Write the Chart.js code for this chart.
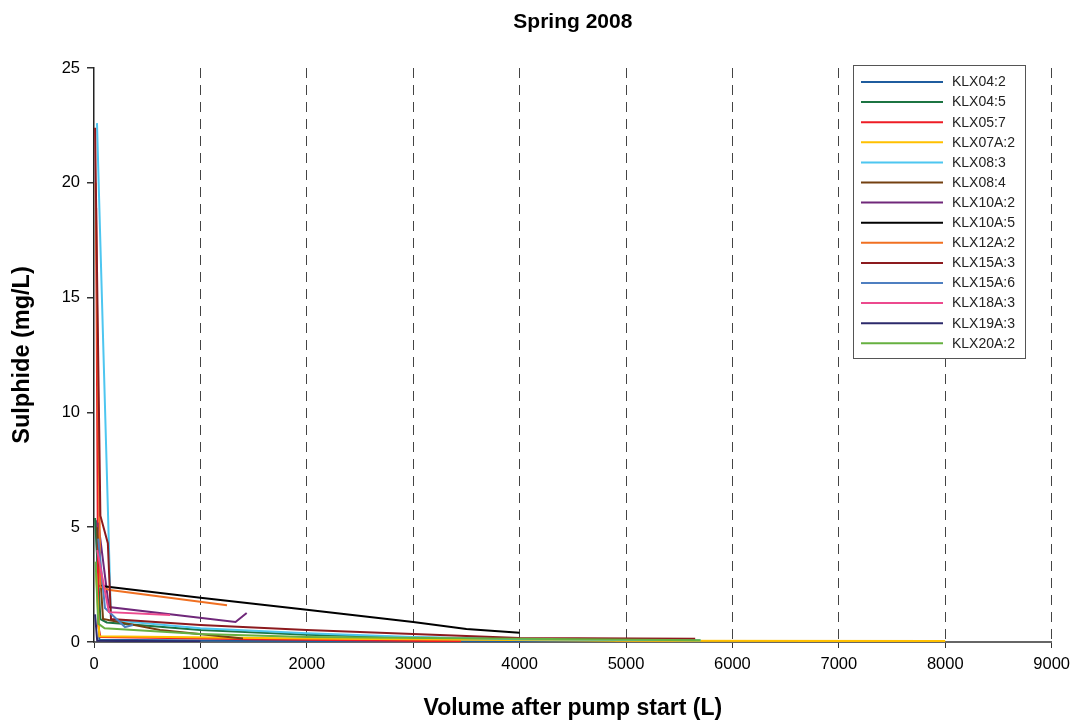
<!DOCTYPE html>
<html>
<head>
  <meta charset="utf-8">
  <title>Spring 2008</title>
  <script src="https://cdn.jsdelivr.net/npm/chart.js"></script>
  <style>body{margin:0;background:#fff;}canvas{display:block;}</style>
</head>
<body>
  <canvas id="chart" width="1077" height="726"></canvas>
  <script>
    const seriesNames = ['KLX04:2','KLX04:5','KLX05:7','KLX07A:2','KLX08:3','KLX08:4','KLX10A:2',
      'KLX10A:5','KLX12A:2','KLX15A:3','KLX15A:6','KLX18A:3','KLX19A:3','KLX20A:2'];
    const seriesColors = ['#1F5C9E','#1C7442','#EE1C25','#FFC000','#4DC6F0','#744010','#70287A',
      '#000000','#F07022','#8C1A1E','#4F7FC0','#EC4A8E','#2C2A6B','#66B040'];
    // volume after pump start (L), one list per series
    const volumes = [
      [20, 50, 1000, 3000, 4900],
      [10, 60, 120, 1000, 2000, 3000, 4900],
      [20, 40, 60, 1500, 3450],
      [20, 50, 2000, 4900, 8000],
      [28, 160, 1000, 2000, 3000, 4000, 5700],
      [30, 85, 620, 1400],
      [40, 140, 1330, 1435],
      [50, 1000, 2000, 3000, 3500, 4000],
      [15, 60, 150, 1250],
      [10, 60, 130, 160, 1000, 2000, 3000, 4000, 5650],
      [40, 103, 291, 366],
      [30, 140, 715],
      [10, 30, 1000],
      [15, 40, 100, 1000, 2000, 5700]
    ];
    // sulphide (mg/L), same order
    const sulphide = [
      [5.3, 0.1, 0.06, 0.03, 0.02],
      [5.4, 1.0, 0.85, 0.52, 0.32, 0.2, 0.07],
      [18.9, 0.7, 0.22, 0.12, 0.03],
      [3.0, 0.25, 0.15, 0.05, 0.04],
      [22.6, 0.95, 0.6, 0.38, 0.22, 0.12, 0.08],
      [5.0, 1.0, 0.52, 0.15],
      [5.2, 1.52, 0.87, 1.26],
      [2.45, 1.93, 1.4, 0.87, 0.57, 0.4],
      [20.0, 2.4, 2.26, 1.6],
      [22.4, 5.5, 4.3, 1.0, 0.74, 0.52, 0.35, 0.17, 0.14],
      [4.5, 1.48, 0.65, 0.74],
      [4.0, 1.3, 1.18],
      [1.2, 0.05, 0.02],
      [3.5, 0.8, 0.6, 0.35, 0.22, 0.08]
    ];
    const xTicks = [0,1000,2000,3000,4000,5000,6000,7000,8000,9000];
    const yTicks = [0,5,10,15,20,25];

    const FONT = "'Liberation Sans', Arial, sans-serif";

    const boxLegend = {
      id: 'boxLegend',
      afterDraw(chart) {
        const ctx = chart.ctx;
        const x0 = 853, y0 = 65, w = 172, h = 293;
        ctx.save();
        ctx.fillStyle = '#fff';
        ctx.fillRect(x0, y0, w, h);
        ctx.strokeStyle = '#555';
        ctx.lineWidth = 1;
        ctx.strokeRect(x0 + 0.5, y0 + 0.5, w, h);
        ctx.font = '14px ' + FONT;
        ctx.textBaseline = 'middle';
        chart.data.datasets.forEach((ds, i) => {
          const y = 82 + i * 20.1;
          ctx.strokeStyle = ds.borderColor;
          ctx.lineWidth = 2;
          ctx.beginPath();
          ctx.moveTo(861, y);
          ctx.lineTo(943, y);
          ctx.stroke();
          ctx.fillStyle = '#222';
          ctx.fillText(ds.label, 952, y + 0.5);
        });
        ctx.restore();
      }
    };

    new Chart(document.getElementById('chart'), {
      type: 'line',
      data: {
        datasets: seriesNames.map((name, i) => ({
          label: name,
          data: volumes[i].map((v, j) => ({x: v, y: sulphide[i][j]})),
          borderColor: seriesColors[i],
          backgroundColor: seriesColors[i],
          borderWidth: 2,
          pointRadius: 0,
          fill: false,
          tension: 0,
          order: seriesNames.length - i
        }))
      },
      options: {
        responsive: false,
        animation: false,
        devicePixelRatio: 1,
        layout: {padding: {left: 0, right: 18, top: 0, bottom: 0}},
        plugins: {
          legend: {display: false},
          tooltip: {enabled: false},
          title: {
            display: true,
            text: 'Spring 2008',
            fullSize: false,
            color: '#000',
            font: {family: FONT, size: 21, weight: 'bold'},
            padding: {top: 10, bottom: 32.8}
          }
        },
        scales: {
          x: {
            type: 'linear',
            min: 0, max: 9000,
            afterBuildTicks: s => { s.ticks = xTicks.map(v => ({value: v})); },
            afterFit: s => { s.height = 84; },
            ticks: {color: '#000', font: {family: FONT, size: 16.5}, padding: 7, maxRotation: 0,
              callback: v => String(v)},
            grid: {
              color: c => c.tick && c.tick.value === 0 ? 'rgba(0,0,0,0)' : '#444',
              lineWidth: 1,
              drawTicks: true,
              tickLength: 6,
              tickColor: '#333',
              tickBorderDash: []
            },
            border: {display: true, color: '#666', width: 2, dash: [10, 7]},
            title: {
              display: true,
              text: 'Volume after pump start (L)',
              color: '#000',
              font: {family: FONT, size: 23, weight: 'bold'},
              padding: {top: 0, bottom: 4}
            }
          },
          y: {
            type: 'linear',
            min: 0, max: 25,
            afterBuildTicks: s => { s.ticks = yTicks.map(v => ({value: v})); },
            afterFit: s => { s.width = 94; },
            ticks: {color: '#000', font: {family: FONT, size: 16.5}, padding: 7,
              callback: v => String(v)},
            grid: {drawOnChartArea: false, drawTicks: true, tickLength: 7, tickColor: '#333', lineWidth: 1.5},
            border: {display: true, color: '#222', width: 1.5},
            title: {
              display: true,
              text: 'Sulphide (mg/L)',
              color: '#000',
              font: {family: FONT, size: 23.5, weight: 'bold'},
              padding: {top: 8, bottom: 0}
            }
          }
        }
      },
      plugins: [boxLegend]
    });
  </script>
</body>
</html>
